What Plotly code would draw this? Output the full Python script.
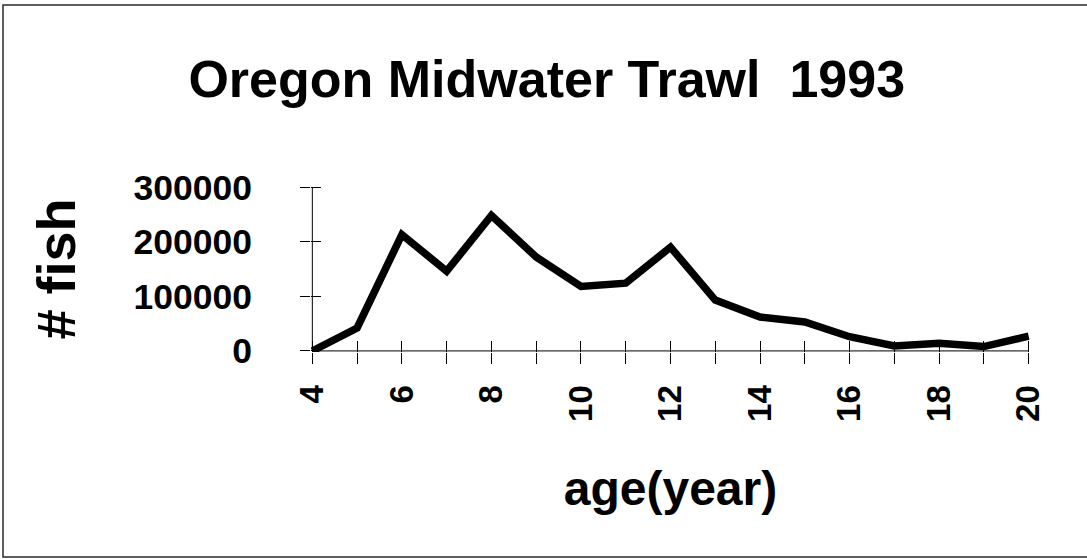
import plotly.graph_objects as go

ages = [4, 5, 6, 7, 8, 9, 10, 11, 12, 13, 14, 15, 16, 17, 18, 19, 20]
fish = [0, 42000, 213000, 146000, 248000, 172000, 118000, 124000, 190000,
        93000, 62000, 53000, 26000, 9000, 14000, 8000, 27000]
y_ticks = [0, 100000, 200000, 300000]
y_tick_labels = ["0", "100000", "200000", "300000"]
x_tick_vals = [4, 6, 8, 10, 12, 14, 16, 18, 20]

W, H = 1087, 559
L, R, T, B = 311, 57, 186, 207
pw, ph = W - L - R, H - T - B

# tiny padding so the edge tick marks are drawn on both sides of the axes
X_RANGE = [3.97, 20.03]
Y_RANGE = [-2000, 302000]

FONT = "Liberation Sans, Arial, Helvetica, sans-serif"

fig = go.Figure()
fig.add_trace(go.Scatter(x=ages, y=fish, mode="lines",
                         line=dict(color="black", width=7.5),
                         hoverinfo="skip", showlegend=False))
# invisible trace on overlay axes (for inside tick marks)
fig.add_trace(go.Scatter(x=ages, y=fish, mode="lines", xaxis="x2", yaxis="y2",
                         line=dict(color="rgba(0,0,0,0)", width=0),
                         hoverinfo="skip", showlegend=False))

def px_x(p):
    return (p - L) / pw
def px_y(p):
    return 1 - (p - T) / ph

fig.add_shape(type="rect", xref="paper", yref="paper",
              x0=px_x(3), x1=px_x(1092), y0=px_y(557), y1=px_y(5),
              line=dict(color="#2a2a2a", width=1.5), layer="below")

fig.update_layout(
    width=W, height=H,
    margin=dict(l=L, r=R, t=T, b=B),
    paper_bgcolor="white", plot_bgcolor="white",
    font=dict(family=FONT, color="black"),
    title=dict(text="Oregon Midwater Trawl\u00a0\u00a01993",
               font=dict(size=52, family=FONT, weight="bold", color="black"),
               x=0.503, xanchor="center", xref="container",
               y=1 - 79 / H, yanchor="middle", yref="container"),
    xaxis=dict(range=X_RANGE, tickvals=x_tick_vals, ticktext=[str(v) for v in x_tick_vals],
               tickangle=-90, ticks="outside", ticklen=11, tickwidth=1, tickcolor="black",
               minor=dict(dtick=1, tick0=4, ticks="outside", ticklen=11, tickwidth=1, tickcolor="black"),
               showline=False, showgrid=False, zeroline=False,
               tickfont=dict(size=33, family=FONT, weight="bold", color="black"),
               ticklabelstandoff=8,
               title=dict(text="age(year)", standoff=50,
                          font=dict(size=48, family=FONT, weight="bold", color="black"))),
    yaxis=dict(range=Y_RANGE, tickvals=y_ticks, ticktext=y_tick_labels,
               ticks="outside", ticklen=10, tickwidth=1, tickcolor="black",
               showline=False, showgrid=False, zeroline=False,
               tickfont=dict(size=35.5, family=FONT, weight="bold", color="black"),
               ticklabelstandoff=41,
               title=dict(text="# fish", standoff=40,
                          font=dict(size=54, family=FONT, weight="bold", color="black"))),
    xaxis2=dict(range=X_RANGE, overlaying="x", anchor="y2", side="bottom",
                tickvals=ages, ticks="inside", ticklen=11, tickwidth=1, tickcolor="black",
                showticklabels=False, showline=False, showgrid=False, zeroline=False),
    yaxis2=dict(range=Y_RANGE, overlaying="y", anchor="x2", side="left",
                tickvals=y_ticks, ticks="inside", ticklen=10, tickwidth=1, tickcolor="black",
                showticklabels=False, showline=False, showgrid=False, zeroline=False),
    showlegend=False,
)

# axis lines drawn from the data range (y=0 baseline across ages, x=age 4 up to top tick)
fig.add_shape(type="line", xref="x", yref="y", x0=ages[0], x1=ages[-1], y0=y_ticks[0], y1=y_ticks[0],
              line=dict(color="black", width=1), layer="below")
fig.add_shape(type="line", xref="x", yref="y", x0=ages[0], x1=ages[0], y0=y_ticks[0], y1=y_ticks[-1],
              line=dict(color="black", width=1), layer="below")

fig.write_html("out.html", config={"displayModeBar": False},
               post_script="document.body.style.margin='0';document.body.style.overflow='hidden';")
